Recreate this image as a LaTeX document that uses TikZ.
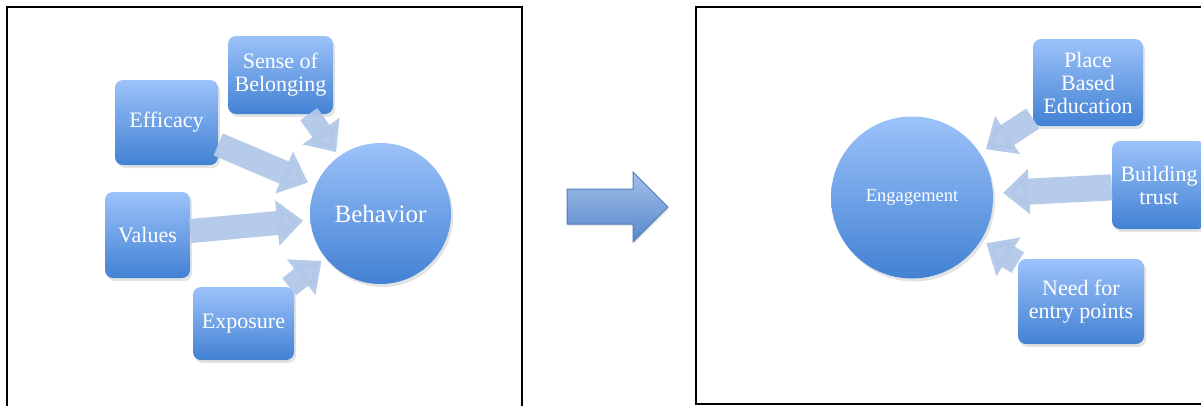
\documentclass[tikz,border=0pt]{standalone}
\usepackage{fontspec}
\setmainfont{Liberation Serif}
\usetikzlibrary{arrows.meta,shadows}

\definecolor{boxtop}{RGB}{156,194,250}
\definecolor{boxbot}{RGB}{66,129,211}
\definecolor{flowblue}{RGB}{178,199,232}
\definecolor{bigtop}{RGB}{164,192,234}
\definecolor{bigbot}{RGB}{88,136,203}
\definecolor{bigedge}{RGB}{80,124,188}

\tikzset{
  factor/.style={rectangle, rounded corners=8pt, inner sep=0pt, align=center,
    text=white, font=\fontsize{22}{23}\selectfont,
    top color=boxtop, bottom color=boxbot, draw=none,
    drop shadow={shadow xshift=2pt, shadow yshift=-3pt, opacity=0.22}},
  hub/.style={circle, inner sep=0pt, align=center, text=white,
    top color=boxtop, bottom color=boxbot, draw=none,
    drop shadow={shadow xshift=2pt, shadow yshift=-3pt, opacity=0.22}},
  flow/.style={flowblue, line width=24pt, opacity=0.95,
    -{Triangle[width=44pt,length=26pt]}},
  frame/.style={black, line width=1.8pt}
}

\begin{document}
\begin{tikzpicture}[x=1pt,y=-1pt]
\useasboundingbox (0,0) rectangle (1201,405);

% frames
\draw [frame] (7,412) -- (7,7) -- (522,7) -- (522,412);
\draw [frame] (1210,7) -- (696,7) -- (696,404) -- (1210,404);

% left: what drives behavior
\node [hub, minimum size=141pt, font=\fontsize{25}{27}\selectfont] (behavior) at (380.5,213.5) {Behavior};
\node [factor, minimum width=105pt, minimum height=78pt] (sense) at (280.5,75) {Sense of\\Belonging};
\node [factor, minimum width=103pt, minimum height=85pt] (efficacy) at (166.5,122.5) {Efficacy};
\node [factor, minimum width=85pt, minimum height=86pt] (values) at (147.5,235) {Values};
\node [factor, minimum width=101pt, minimum height=73pt] (exposure) at (243.5,323.5) {Exposure};

\draw [flow, line width=21pt, shorten >=5pt] (sense) -- (behavior);
\draw [flow, shorten >=8pt] (efficacy) -- (behavior);
\draw [flow, shorten >=7pt] (values) -- (behavior);
\draw [flow, line width=22pt, shorten >=5pt] (exposure) -- (behavior);

% middle block arrow
\shade [top color=bigtop, bottom color=bigbot, draw=bigedge, line width=1pt,
  drop shadow={shadow xshift=1pt, shadow yshift=-2pt, opacity=0.2}]
  (567,189) -- (633,189) -- (633,172) -- (668,207) -- (633,242) -- (633,224) -- (567,224) -- cycle;

% right: engagement
\node [hub, minimum size=162pt, font=\fontsize{18.5}{20}\selectfont] (engage) at (912,197.5) {Engagement};
\node [factor, minimum width=110pt, minimum height=87pt] (place) at (1088,82.5) {Place\\Based\\Education};
\node [factor, minimum width=94pt, minimum height=88pt] (trust) at (1159,185) {Building\\trust};
\node [factor, minimum width=126pt, minimum height=85pt] (entry) at (1081,301.5) {Need for\\entry points};

\draw [flow, shorten >=7pt] (place) -- (engage);
\draw [flow, line width=26pt, shorten >=10pt] (trust) -- (engage);
\draw [flow, shorten >=6pt] (entry) -- (engage);
\end{tikzpicture}
\end{document}
